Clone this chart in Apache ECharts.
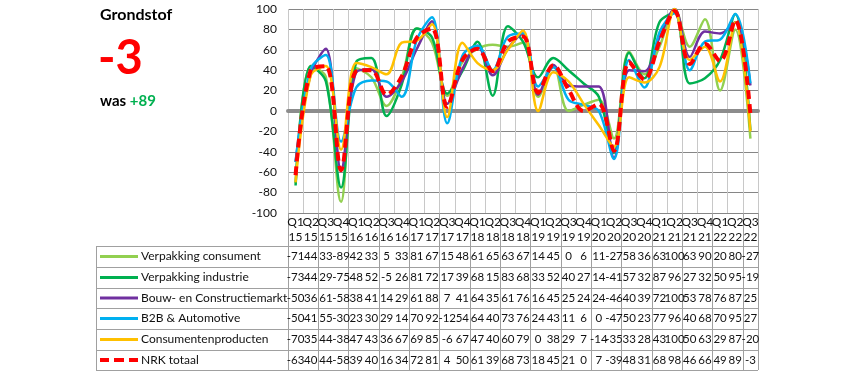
<!DOCTYPE html>
<html>
<head>
<meta charset="utf-8">
<script src="https://cdn.jsdelivr.net/npm/echarts@6/dist/echarts.min.js"></script>
<style>
html, body { margin: 0; padding: 0; background: #fff; }
#main { width: 842px; height: 376px; }
</style>
</head>
<body>
<div id="main"></div>
<script>
// kwartalen (as-labels, twee regels: kwartaal / jaar)
const categories = ['Q1\n15', 'Q2\n15', 'Q3\n15', 'Q4\n15', 'Q1\n16', 'Q2\n16', 'Q3\n16', 'Q4\n16',
    'Q1\n17', 'Q2\n17', 'Q3\n17', 'Q4\n17', 'Q1\n18', 'Q2\n18', 'Q3\n18', 'Q4\n18',
    'Q1\n19', 'Q2\n19', 'Q3\n19', 'Q4\n19', 'Q1\n20', 'Q2\n20', 'Q3\n20', 'Q4\n20',
    'Q1\n21', 'Q2\n21', 'Q3\n21', 'Q4\n21', 'Q1\n22', 'Q2\n22', 'Q3\n22']
const seriesNames = ['Verpakking consument', 'Verpakking industrie', 'Bouw- en Constructiemarkt',
    'B2B & Automotive', 'Consumentenproducten', 'NRK totaal']
const consument = [-71, 44, 33, -89, 42, 33, 5, 33, 81, 67, 15, 48, 61, 65, 63, 67, 14, 45, 0, 6, 11, -27, 58, 36, 63, 100, 63, 90, 20, 80, -27]
const industrie = [-73, 44, 29, -75, 48, 52, -5, 26, 81, 72, 17, 39, 68, 15, 83, 68, 33, 52, 40, 27, 14, -41, 57, 32, 87, 96, 27, 32, 50, 95, -19]
const bouw = [-50, 36, 61, -58, 38, 41, 14, 29, 61, 88, 7, 41, 64, 35, 61, 76, 16, 45, 25, 24, 24, -46, 40, 39, 72, 100, 53, 78, 76, 87, 25]
const b2b = [-50, 41, 55, -30, 23, 30, 29, 14, 70, 92, -12, 54, 64, 40, 73, 76, 24, 43, 11, 6, 0, -47, 50, 23, 77, 96, 40, 68, 70, 95, 27]
const consumentenproducten = [-70, 35, 44, -38, 47, 43, 36, 67, 69, 85, -6, 67, 47, 40, 60, 79, 0, 38, 29, 7, -14, -35, 33, 28, 43, 100, 50, 63, 29, 87, -20]
const nrkTotaal = [-63, 40, 44, -58, 39, 40, 16, 34, 72, 81, 4, 50, 61, 39, 68, 73, 18, 45, 21, 0, 7, -39, 48, 31, 68, 98, 46, 66, 49, 89, -3]
const yTicks = { min: -100, max: 100, interval: 20 }
const headline = '-3'
const previous = '+89'

const rows = [consument, industrie, bouw, b2b, consumentenproducten, nrkTotaal]
const colors = ['#92d050', '#00b050', '#7030a0', '#00b0f0', '#ffc000', '#ff0000']
const font = 'Lato'

// tabel-indeling (pixels)
const plotLeft = 288, plotRight = 758, plotTop = 9, plotBottom = 213
const tableLeft = 96
const rowLines = [246, 267, 288, 308, 329, 350, 370]

const solidIcon = 'path://M0,0h38v3h-38z'
const dashIcon = 'path://M0,0h9v4h-9z M14,0h10v4h-10z M29,0h9v4h-9z'

const myChart = echarts.init(document.getElementById('main'))

const xAxis = [{
    gridIndex: 0,
    type: 'category',
    data: categories,
    boundaryGap: true,
    axisLine: { show: false, onZero: false },
    axisTick: { show: false },
    splitLine: { show: true, lineStyle: { color: '#c8c8c8', width: 1 } },
    axisLabel: {
        interval: 0, margin: 2, fontFamily: font, fontSize: 12, lineHeight: 15,
        color: '#111', verticalAlign: 'top'
    }
}, {
    gridIndex: 1,
    type: 'category',
    data: categories,
    boundaryGap: true,
    axisLine: { show: false },
    axisTick: { show: false },
    axisLabel: { show: false },
    splitLine: { show: true, lineStyle: { color: '#a0a0a0', width: 1 } }
}, {
    // nullijn
    gridIndex: 0,
    type: 'category',
    data: categories,
    axisLine: { show: true, onZero: true, lineStyle: { color: '#8c8c8c', width: 4 } },
    axisTick: { show: false },
    axisLabel: { show: false },
    splitLine: { show: false }
}]

// waardentabel onder de grafiek: één as per reeks
const legends = []
rows.forEach((vals, k) => {
    const center = (rowLines[k] + rowLines[k + 1]) / 2
    xAxis.push({
        gridIndex: 0,
        type: 'category',
        data: categories,
        position: 'bottom',
        offset: center - 7 - plotBottom,
        axisLine: { show: false, onZero: false },
        axisTick: { show: false },
        splitLine: { show: false },
        axisLabel: {
            interval: 0, margin: 0, fontFamily: font, fontSize: 11.5, lineHeight: 14,
            verticalAlign: 'top', color: '#111',
            formatter: (v, i) => String(vals[i])
        }
    })
    legends.push({
        left: 100,
        top: center - 7,
        padding: 0,
        itemWidth: 38,
        itemHeight: 14,
        itemGap: 0,
        selectedMode: false,
        textStyle: { fontFamily: font, fontSize: 12, color: '#111', lineHeight: 14, padding: [0, 0, 0, -2] },
        data: [{ name: seriesNames[k], icon: k === 5 ? dashIcon : solidIcon }]
    })
})

const series = rows.map((vals, k) => ({
    name: seriesNames[k],
    type: 'line',
    xAxisIndex: 0,
    yAxisIndex: 0,
    data: vals,
    smooth: 0.35,
    symbol: 'none',
    z: 3 + k,
    lineStyle: k === 5
        ? { color: colors[k], width: 4, type: [9, 5] }
        : { color: colors[k], width: 2.5 },
    itemStyle: { color: colors[k] }
}))

const graphic = []
rowLines.forEach(y => {
    graphic.push({
        type: 'line', silent: true,
        shape: { x1: tableLeft, y1: y + 0.5, x2: plotRight, y2: y + 0.5 },
        style: { stroke: '#a0a0a0', lineWidth: 1 }
    })
})
graphic.push({
    type: 'line', silent: true,
    shape: { x1: tableLeft + 0.5, y1: rowLines[0], x2: tableLeft + 0.5, y2: rowLines[rowLines.length - 1] },
    style: { stroke: '#a0a0a0', lineWidth: 1 }
})
graphic.push({
    type: 'text', left: 100, top: 7,
    style: { text: 'Grondstof', font: 'bold 16px ' + font, fill: '#000' }
})
graphic.push({
    type: 'text', left: 98, top: 35,
    style: { text: headline, font: 'bold 47px ' + font, fill: '#ff0000' }
})
graphic.push({
    type: 'text', left: 100, top: 94,
    style: {
        text: '{a|was }{b|' + previous + '}',
        rich: {
            a: { font: 'bold 15px ' + font, fill: '#000' },
            b: { font: 'bold 15px ' + font, fill: '#00b050' }
        }
    }
})

let option = {
    backgroundColor: '#fff',
    animation: false,
    textStyle: { fontFamily: font },
    grid: [{
        left: plotLeft, top: plotTop, width: plotRight - plotLeft, height: plotBottom - plotTop,
        containLabel: false
    }, {
        left: plotLeft, top: plotBottom, width: plotRight - plotLeft, height: rowLines[rowLines.length - 1] - plotBottom,
        containLabel: false
    }],
    xAxis: xAxis,
    yAxis: [{
        gridIndex: 0,
        type: 'value',
        min: yTicks.min,
        max: yTicks.max,
        interval: yTicks.interval,
        axisLine: { show: false },
        axisTick: { show: false },
        axisLabel: { margin: 11, fontFamily: font, fontSize: 12, color: '#111' },
        splitLine: { show: true, lineStyle: { color: '#868686', width: 1 } }
    }, {
        gridIndex: 1,
        type: 'value',
        show: false
    }],
    legend: legends,
    graphic: graphic,
    series: series
}
myChart.setOption(option)
</script>
</body>
</html>
